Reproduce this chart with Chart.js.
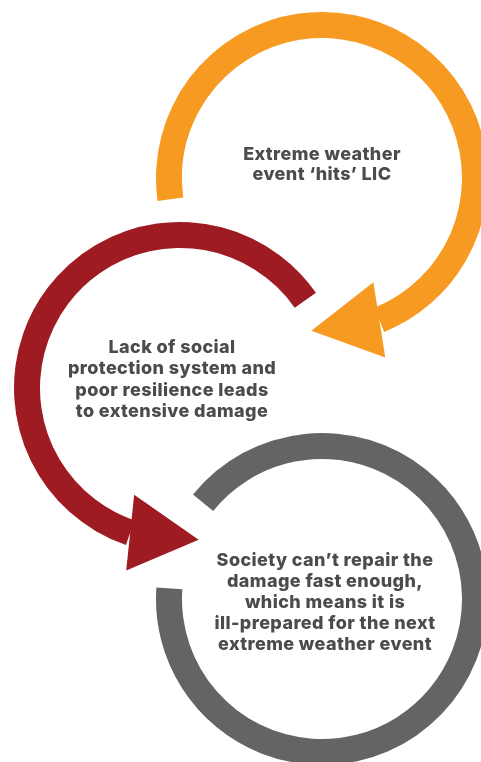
<!DOCTYPE html>
<html>
<head>
<meta charset="utf-8">
<script src="https://cdn.jsdelivr.net/npm/chart.js@4.4.1/dist/chart.umd.min.js"></script>
<style>
  html, body { margin: 0; padding: 0; background: #fff; }
  body { width: 481px; height: 762px; overflow: hidden; position: relative; }
  canvas { position: absolute; }
</style>
</head>
<body>
<canvas id="ring-1" width="400" height="400" style="left:122px;top:-22px"></canvas>
<canvas id="ring-2" width="400" height="400" style="left:-20px;top:188px"></canvas>
<canvas id="ring-3" width="400" height="400" style="left:122px;top:399px"></canvas>
<script>
// the three stages of the cycle
const stages = [
  "Extreme weather event ‘hits’ LIC",
  "Lack of social protection system and poor resilience leads to extensive damage",
  "Society can’t repair the damage fast enough, which means it is ill-prepared for the next extreme weather event",
];
const stageLines = [
  ["Extreme weather", "event ‘hits’ LIC"],
  ["Lack of social", "protection system and", "poor resilience leads", "to extensive damage"],
  ["Society can’t repair the", "damage fast enough,", "which means it is", "ill-prepared for the next", "extreme weather event"],
];
// sweep of each arrow (degrees) and where it starts
const arcSpans = [256, 216, 325];
const arcStarts = [262, 199, 309];
// which end carries the arrow head
const arrowEnds = ["end", "start", "none"];

const colors = ["#f79a21", "#9e1b22", "#636466"];
const textOffsets = [[0, -13], [-8, -8.5], [3, 4]];
const lineGap = [20, 21.5, 21];

const cycleArrow = {
  id: "cycle-arrow",
  afterDatasetsDraw(chart, args, opts) {
    const arc = chart.getDatasetMeta(0).data[0];
    const p = arc.getProps(["x", "y", "startAngle", "endAngle", "innerRadius", "outerRadius"], true);
    const ctx = chart.ctx;
    const r = (p.innerRadius + p.outerRadius) / 2;

    if (opts.end !== "none") {
      let base, tip;
      const head = 26 * Math.PI / 180;
      if (opts.end === "end") {
        base = p.endAngle;
        tip = base + head;
      } else {
        base = p.startAngle;
        tip = base - head;
      }
      const bx = p.x + r * Math.cos(base), by = p.y + r * Math.sin(base);
      const tx = p.x + r * Math.cos(tip), ty = p.y + r * Math.sin(tip);
      const len = Math.hypot(tx - bx, ty - by);
      const nx = -(ty - by) / len, ny = (tx - bx) / len;
      const hw = 38;
      ctx.save();
      ctx.fillStyle = opts.color;
      ctx.beginPath();
      ctx.moveTo(tx, ty);
      ctx.lineTo(bx + nx * hw, by + ny * hw);
      ctx.lineTo(bx - nx * hw, by - ny * hw);
      ctx.closePath();
      ctx.fill();
      ctx.restore();
    }

    // label inside the ring
    ctx.save();
    ctx.fillStyle = "#4b4b4d";
    ctx.font = "800 18px Inter";
    ctx.letterSpacing = "0.4px";
    ctx.textAlign = "center";
    ctx.textBaseline = "middle";
    const lines = opts.lines;
    const cx = p.x + opts.offset[0];
    const cy = p.y + opts.offset[1] - (lines.length - 1) * opts.gap / 2;
    lines.forEach((t, i) => ctx.fillText(t, cx, cy + i * opts.gap));
    ctx.restore();
  },
};

stages.forEach((stage, i) => {
  new Chart(document.getElementById("ring-" + (i + 1)), {
    type: "doughnut",
    data: {
      labels: [stage, ""],
      datasets: [
        {
          // the arrow plus the open gap that completes the circle
          data: [arcSpans[i], 360 - arcSpans[i]],
          backgroundColor: [colors[i], "rgba(0,0,0,0)"],
          borderWidth: 0,
        },
      ],
    },
    options: {
      responsive: false,
      animation: false,
      events: [],
      rotation: arcStarts[i],
      radius: 166,
      cutout: "84.34%",
      plugins: {
        legend: { display: false },
        tooltip: { enabled: false },
        "cycle-arrow": {
          end: arrowEnds[i],
          color: colors[i],
          lines: stageLines[i],
          offset: textOffsets[i],
          gap: lineGap[i],
        },
      },
    },
    plugins: [cycleArrow],
  });
});
</script>
</body>
</html>
